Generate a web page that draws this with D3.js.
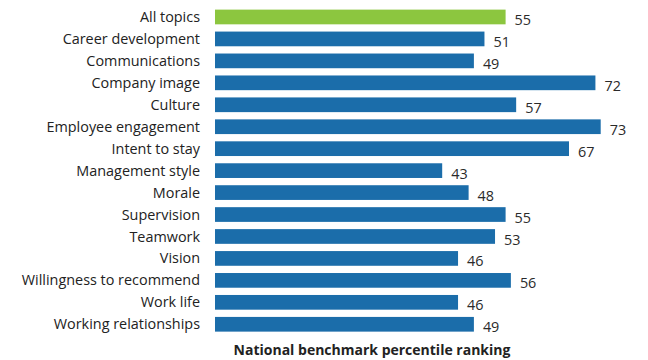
<!DOCTYPE html>
<html>
<head>
<meta charset="utf-8">
<script src="https://cdn.jsdelivr.net/npm/d3@7"></script>
<style>
body { margin: 0; background: #fff; }
svg text { font-family: "Open Sans", "Noto Sans", sans-serif; fill: #222; }
</style>
</head>
<body>
<svg width="648" height="360"></svg>
<script>
var topics = ['All topics', 'Career development', 'Communications', 'Company image', 'Culture',
	'Employee engagement', 'Intent to stay', 'Management style', 'Morale', 'Supervision',
	'Teamwork', 'Vision', 'Willingness to recommend', 'Work life', 'Working relationships'];
var percentiles = [55, 51, 49, 72, 57, 73, 67, 43, 48, 55, 53, 46, 56, 46, 49];
var axisTitle = 'National benchmark percentile ranking';

var svg = d3.select('svg');
var margin = {left: 215, top: 6};

var data = topics.map((t, i) => ({topic: t, value: percentiles[i]}));

var xscale = d3.scaleLinear()
	.domain([0, 73])
	.range([0, 385.7]);

var yscale = d3.scaleBand()
	.domain(topics)
	.range([0, 15 * 21.95])
	.paddingInner(0.33)
	.paddingOuter(0.165);

var g = svg.append('g').attr('transform', `translate(${margin.left},${margin.top})`);

g.selectAll('rect').data(data)
	.enter()
	.append('rect')
	.attr('x', 0)
	.attr('y', d => yscale(d.topic))
	.attr('width', d => xscale(d.value))
	.attr('height', yscale.bandwidth())
	.attr('fill', (d, i) => i == 0 ? '#8cc63f' : '#1b6daa');

// category labels
g.selectAll('.cat').data(data)
	.enter()
	.append('text')
	.attr('class', 'cat')
	.attr('x', -15)
	.attr('y', d => yscale(d.topic) + yscale.bandwidth() / 2)
	.attr('dy', '0.35em')
	.attr('text-anchor', 'end')
	.style('font-size', '14.4px')
	.text(d => d.topic);

// value labels
g.selectAll('.val').data(data)
	.enter()
	.append('text')
	.attr('class', 'val')
	.attr('x', d => xscale(d.value) + 9)
	.attr('y', d => yscale(d.topic) + yscale.bandwidth() / 2 + 3)
	.attr('dy', '0.35em')
	.style('font-size', '14.4px')
	.style('fill', '#2a2a2a')
	.text(d => d.value);

svg.append('text')
	.attr('x', 372)
	.attr('y', 355)
	.attr('text-anchor', 'middle')
	.style('font-size', '14px')
	.style('font-weight', 'bold')
	.text(axisTitle);
</script>
</body>
</html>
